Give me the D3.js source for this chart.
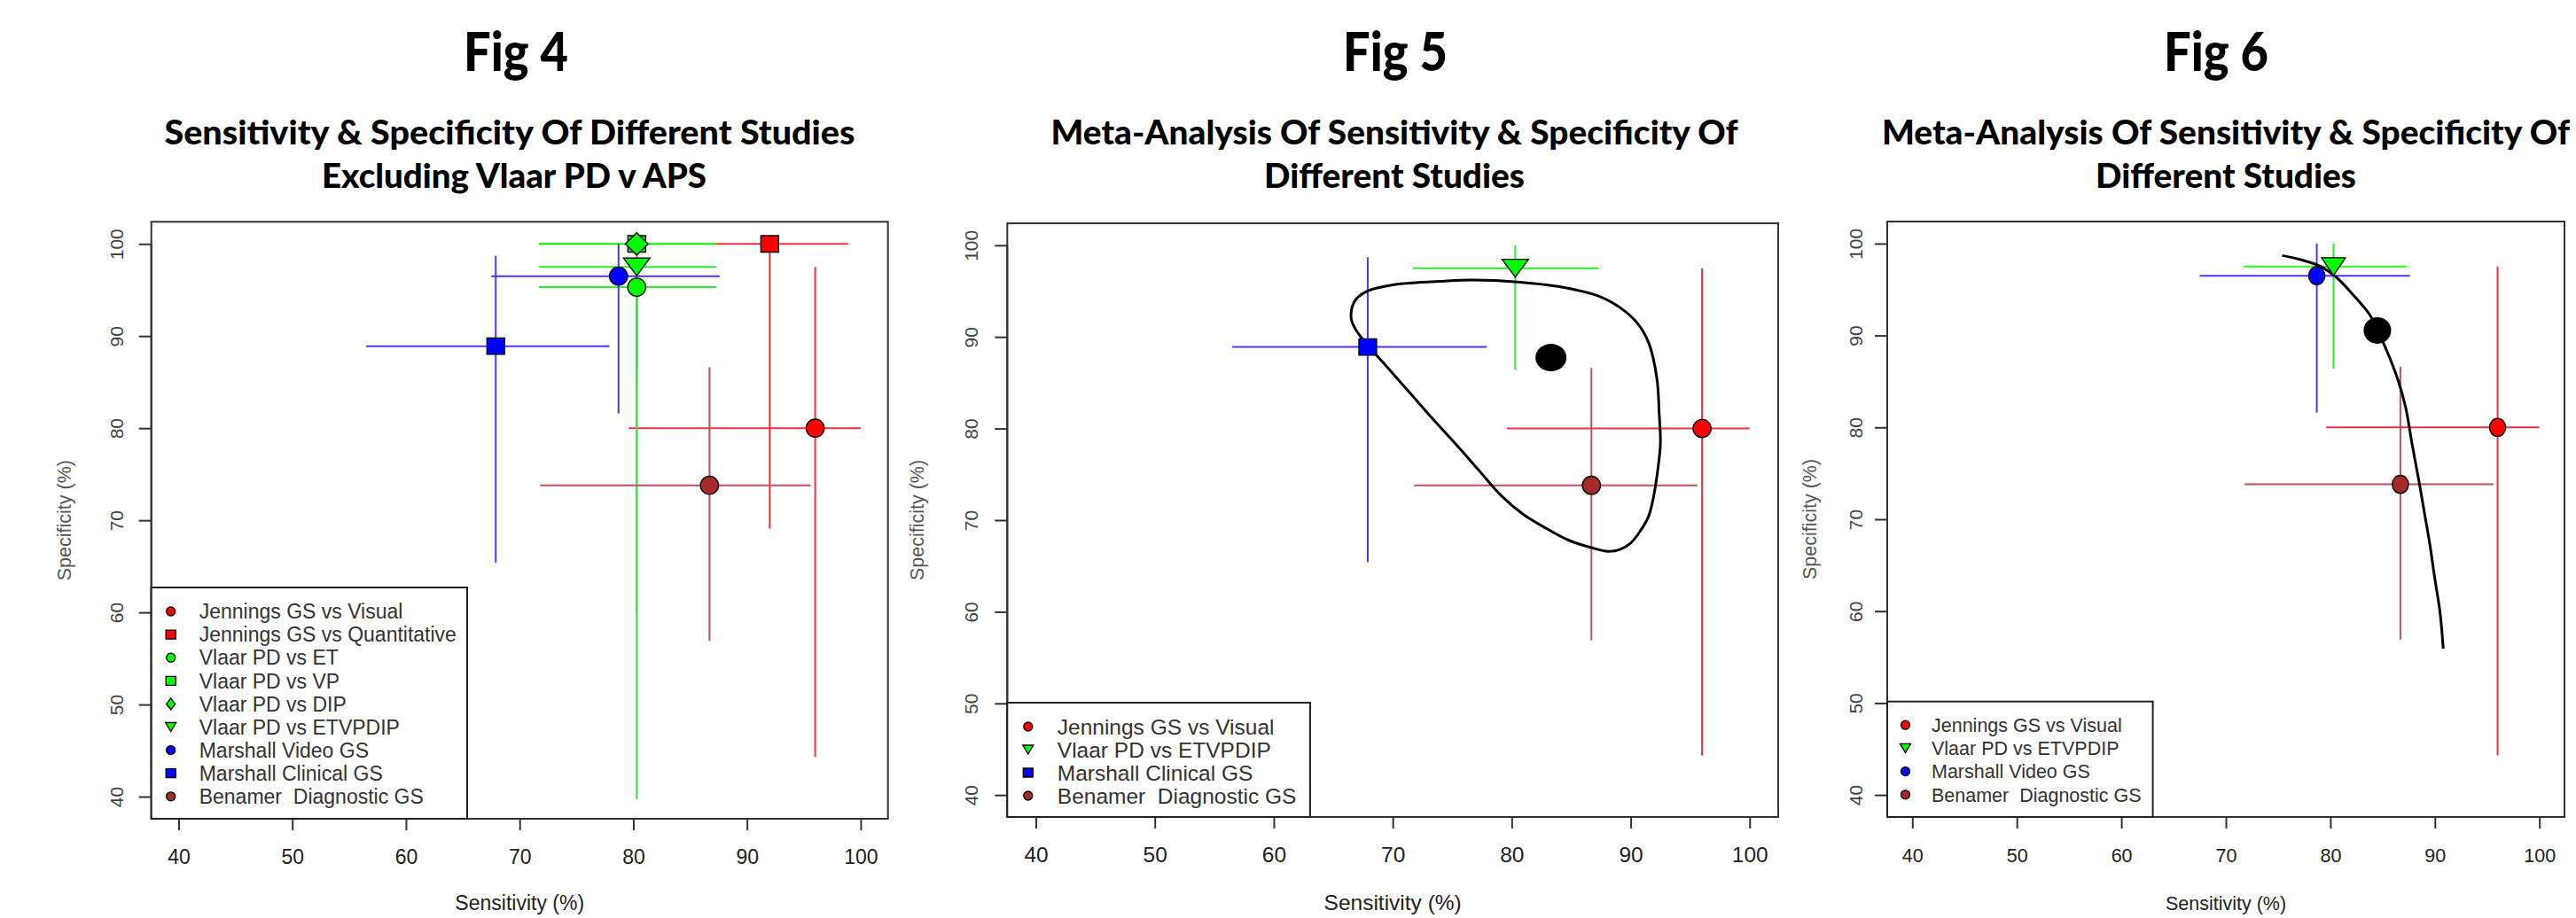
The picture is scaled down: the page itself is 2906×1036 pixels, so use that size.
<!DOCTYPE html>
<html><head><meta charset="utf-8">
<script src="https://cdn.jsdelivr.net/npm/d3@7/dist/d3.min.js"></script>
<style>body{margin:0;background:#fff;}svg{display:block;}</style>
</head><body>
<script>
// ---------------- DATA ----------------
const studies = ["Jennings GS vs Visual","Jennings GS vs Quantitative","Vlaar PD vs ET","Vlaar PD vs VP","Vlaar PD vs DIP","Vlaar PD vs ETVPDIP","Marshall Video GS","Marshall Clinical GS","Benamer  Diagnostic GS"];
const sens   = [96.0, 92.0, 80.3, 80.3, 80.3, 80.3, 78.7, 67.9, 86.7];
const sensLo = [79.6, 87.3, 71.7, 71.7, 71.7, 71.7, 67.5, 56.5, 71.8];
const sensHi = [100.0, 98.9, 87.3, 87.3, 87.3, 87.3, 87.6, 77.9, 95.6];
const spec   = [80.0, 100.0, 95.3, 100.0, 100.0, 97.5, 96.5, 88.9, 73.8];
const specLo = [44.3, 69.1, 84.5, 39.7, 60.0, 86.4, 81.6, 65.4, 56.9];
const specHi = [97.5, 100.0, 99.4, 100.0, 100.0, 100.0, 100.0, 98.7, 86.6];
const shapes = ["circle","square","circle","square","diamond","triangle","circle","square","circle"];
const groups = ["Jennings","Jennings","Vlaar","Vlaar","Vlaar","Vlaar","Marshall","Marshall","Benamer"];

const fig4Studies = [0,1,2,3,4,5,6,7,8];
const fig5Studies = [0,5,7,8];
const fig6Studies = [0,5,6,8];

const summary5 = [83.3, 87.75];   // [sensitivity, specificity]
const summary6 = [84.5, 90.55];

const regionSens = [66.5,66.8,67.7,70.1,74.4,76.7,80.5,83.9,87.2,89.1,90.5,91.5,92.2,92.4,92.5,92.3,91.9,91.5,90.8,90.0,89.1,88.1,86.7,84.8,82.9,81.0,79.1,77.2,75.3,73.4,71.5,69.6,67.5,66.8];
const regionSpec = [92.1,93.9,94.9,95.7,96.1,96.2,96.0,95.5,94.5,93.2,91.6,89.4,85.5,81.6,78.4,75.7,72.4,70.4,68.8,67.5,66.8,66.6,67.0,67.8,69.1,70.6,72.7,75.5,78.3,81.0,83.8,86.6,89.7,91.0];

const srocSens = [75.4,77.0,79.1,80.6,82.2,83.8,84.5,85.3,86.4,87.2,87.8,88.5,89.0,89.5,90.0,90.5,90.8];
const srocSpec = [98.7,98.3,97.5,96.3,94.4,92.2,90.6,88.6,85.4,82.2,78.3,74.0,70.7,67.4,63.5,59.8,55.9];

const xTicks = [40,50,60,70,80,90,100];
const yTicks = [40,50,60,70,80,90,100];
const figLabels = ["Fig 4","Fig 5","Fig 6"];
const titleLines = [
  ["Sensitivity & Specificity Of Different Studies","Excluding Vlaar PD v APS"],
  ["Meta-Analysis Of Sensitivity & Specificity Of","Different Studies"],
  ["Meta-Analysis Of Sensitivity & Specificity Of","Different Studies"]
];
const xTitle = "Sensitivity (%)";
const yTitle = "Specificity (%)";

// ---------------- STYLE ----------------
const fillColor = {Jennings:"#ff0000", Vlaar:"#00ff00", Marshall:"#0000ff", Benamer:"#a52a2a"};
const barColor  = {Jennings:"#f5303c", Vlaar:"#2cf02c", Marshall:"#5232ff", Benamer:"#c0505c"};

const W=2906,H=1036;
const svg=d3.select("body").append("svg").attr("width",W).attr("height",H);
svg.append("rect").attr("width",W).attr("height",H).attr("fill","#fff");

const panels=[
 {l:170.7,r:1001.7,t:250.3,b:924, fs:23, mx:1.0, members:fig4Studies,
  leg:{right:527,top:663,sym:22,txt:54,first:27,step:26.1},
  yTickOff:39, yTitleOff:96, figX:582, lineX:[575,580], widths:[779,434]},
 {l:1136.3,r:2006,t:252,b:922, fs:24.5, mx:1.0, members:fig5Studies, summary:summary5, region:true,
  leg:{right:1478,top:793,sym:23.5,txt:56.5,first:27,step:26},
  yTickOff:41, yTitleOff:100, figX:1574, lineX:[1573,1573], widths:[775,294], sumR:[17.5,15.5]},
 {l:2129,r:2893,t:250,b:922, fs:21.5, mx:0.9, members:fig6Studies, summary:summary6, sroc:true,
  leg:{right:2428.6,top:791.7,sym:20.5,txt:50,first:26.5,step:26.2},
  yTickOff:35.7, yTitleOff:86, figX:2500, lineX:[2511,2511], widths:[776,294], sumR:[15.5,15]}
];

function markerPath(shape, w, h){
  if(shape==="square") return `M${-w/2},${-h/2}H${w/2}V${h/2}H${-w/2}Z`;
  if(shape==="diamond") return `M0,${-h/2}L${w/2},0L0,${h/2}L${-w/2},0Z`;
  if(shape==="triangle") return `M${-w/2},${-h/2}L${w/2},${-h/2}L0,${h/2}Z`;
  return null;
}
function drawMarker(g, shape, cx, cy, size, mx, fill){
  if(shape==="circle"){
    g.append("ellipse").attr("cx",cx).attr("cy",cy).attr("rx",size.c*mx).attr("ry",size.c)
     .attr("fill",fill).attr("stroke","#000").attr("stroke-width",1.3);
  } else {
    let d = shape==="square"? size.s : shape==="diamond"? size.d : size.t;
    g.append("path").attr("d",markerPath(shape,d[0]*mx,d[1])).attr("transform",`translate(${cx},${cy})`)
     .attr("fill",fill).attr("stroke","#000").attr("stroke-width",1.3);
  }
}

panels.forEach((p,pi)=>{
  const g=svg.append("g");
  const x=d3.scaleLinear().domain([37.6,102.4]).range([p.l,p.r]);
  const y=d3.scaleLinear().domain([37.6,102.4]).range([p.b,p.t]);

  // titles
  g.append("text").attr("x",p.figX).attr("y",80).attr("text-anchor","middle")
   .attr("font-family","Lato, 'Open Sans', sans-serif").attr("font-weight",900).attr("font-size",60)
   .attr("textLength",118).attr("lengthAdjust","spacingAndGlyphs").text(figLabels[pi]);
  titleLines[pi].forEach((t,i)=>{
    g.append("text").attr("x",p.lineX[i]).attr("y",[163,212][i]).attr("text-anchor","middle")
     .attr("font-family","Lato, 'Open Sans', sans-serif").attr("font-weight",900).attr("font-size",37)
     .attr("textLength",p.widths[i]).attr("lengthAdjust","spacingAndGlyphs").text(t);
  });

  // x axis
  const xa=g.append("g").attr("transform",`translate(0,${p.b})`)
    .call(d3.axisBottom(x).tickValues(xTicks).tickSize(13).tickPadding(20).tickFormat(d3.format("d")));
  xa.select(".domain").attr("d",`M${x(xTicks[0])},0H${x(xTicks[xTicks.length-1])}`).attr("stroke","#333").attr("stroke-width",2);
  xa.selectAll(".tick line").attr("stroke","#333").attr("stroke-width",2);
  xa.selectAll(".tick text").attr("font-family","'Liberation Sans', Arial, sans-serif").attr("font-size",p.fs).attr("fill","#222")
    .attr("dy",null).attr("y",51);

  // y axis
  const ya=g.append("g").attr("transform",`translate(${p.l},0)`)
    .call(d3.axisLeft(y).tickValues(yTicks).tickSize(14).tickFormat(d3.format("d")));
  ya.select(".domain").attr("d",`M0,${y(yTicks[0])}V${y(yTicks[yTicks.length-1])}`).attr("stroke","#333").attr("stroke-width",2);
  ya.selectAll(".tick line").attr("stroke","#333").attr("stroke-width",2);
  ya.selectAll(".tick text").attr("font-family","'Liberation Sans', Arial, sans-serif").attr("font-size",21).attr("fill","#444")
    .attr("dy",null).attr("text-anchor","middle")
    .attr("transform",`translate(${-p.yTickOff+7.5},0) rotate(-90)`).attr("x",0).attr("y",0);

  // box
  g.append("rect").attr("x",p.l).attr("y",p.t).attr("width",p.r-p.l).attr("height",p.b-p.t)
   .attr("fill","none").attr("stroke","#333").attr("stroke-width",2);

  // axis titles
  g.append("text").attr("x",(p.l+p.r)/2).attr("y",1027).attr("text-anchor","middle")
   .attr("font-family","'Liberation Sans', Arial, sans-serif").attr("font-size",p.fs).attr("fill","#222").text(xTitle);
  g.append("text").attr("text-anchor","middle")
   .attr("transform",`translate(${p.l-p.yTitleOff+5.7},${(p.t+p.b)/2}) rotate(-90)`)
   .attr("font-family","'Liberation Sans', Arial, sans-serif").attr("font-size",21.5).attr("fill","#555").text(yTitle);

  // error bars
  const bars=g.append("g");
  p.members.forEach(i=>{
    const c=barColor[groups[i]];
    bars.append("line").attr("x1",x(sensLo[i])).attr("x2",x(sensHi[i])).attr("y1",y(spec[i])).attr("y2",y(spec[i]))
      .attr("stroke",c).attr("stroke-width",2);
    bars.append("line").attr("x1",x(sens[i])).attr("x2",x(sens[i])).attr("y1",y(specLo[i])).attr("y2",y(specHi[i]))
      .attr("stroke",c).attr("stroke-width",2);
  });

  // confidence region / SROC curve
  if(p.region){
    const pts=regionSens.map((s,k)=>[x(s),y(regionSpec[k])]);
    g.append("path").attr("d",d3.line().curve(d3.curveCatmullRomClosed.alpha(0.5))(pts))
     .attr("fill","none").attr("stroke","#000").attr("stroke-width",3);
  }
  if(p.sroc){
    const pts=srocSens.map((s,k)=>[x(s),y(srocSpec[k])]);
    g.append("path").attr("d",d3.line().curve(d3.curveCatmullRom.alpha(0.5))(pts))
     .attr("fill","none").attr("stroke","#000").attr("stroke-width",3);
  }

  // markers
  const size={c:10.2, s:[20,18.5], d:[26,25], t:[30,20]};
  const mk=g.append("g");
  p.members.forEach(i=>{
    drawMarker(mk, shapes[i], x(sens[i]), y(spec[i]), size, p.mx, fillColor[groups[i]]);
  });
  if(p.summary){
    g.append("ellipse").attr("cx",x(p.summary[0])).attr("cy",y(p.summary[1]))
     .attr("rx",p.sumR[0]).attr("ry",p.sumR[1]).attr("fill","#000");
  }

  // legend
  const L=p.leg;
  const lg=g.append("g");
  lg.append("rect").attr("x",p.l).attr("y",L.top).attr("width",L.right-p.l).attr("height",p.b-L.top)
    .attr("fill","#fff").attr("stroke","#222").attr("stroke-width",2);
  const lsize={c:5, s:[11,10], d:[10,13], t:[12,10]};
  p.members.forEach((i,k)=>{
    const ry=L.top+L.first+k*L.step;
    drawMarker(lg, shapes[i], p.l+L.sym, ry, lsize, 1, fillColor[groups[i]]);
    lg.append("text").attr("x",p.l+L.txt).attr("y",ry+0.36*p.fs).style("white-space","pre")
      .attr("font-family","'Liberation Sans', Arial, sans-serif").attr("font-size",p.fs).attr("fill","#333").text(studies[i]);
  });
});
</script>
</body></html>
